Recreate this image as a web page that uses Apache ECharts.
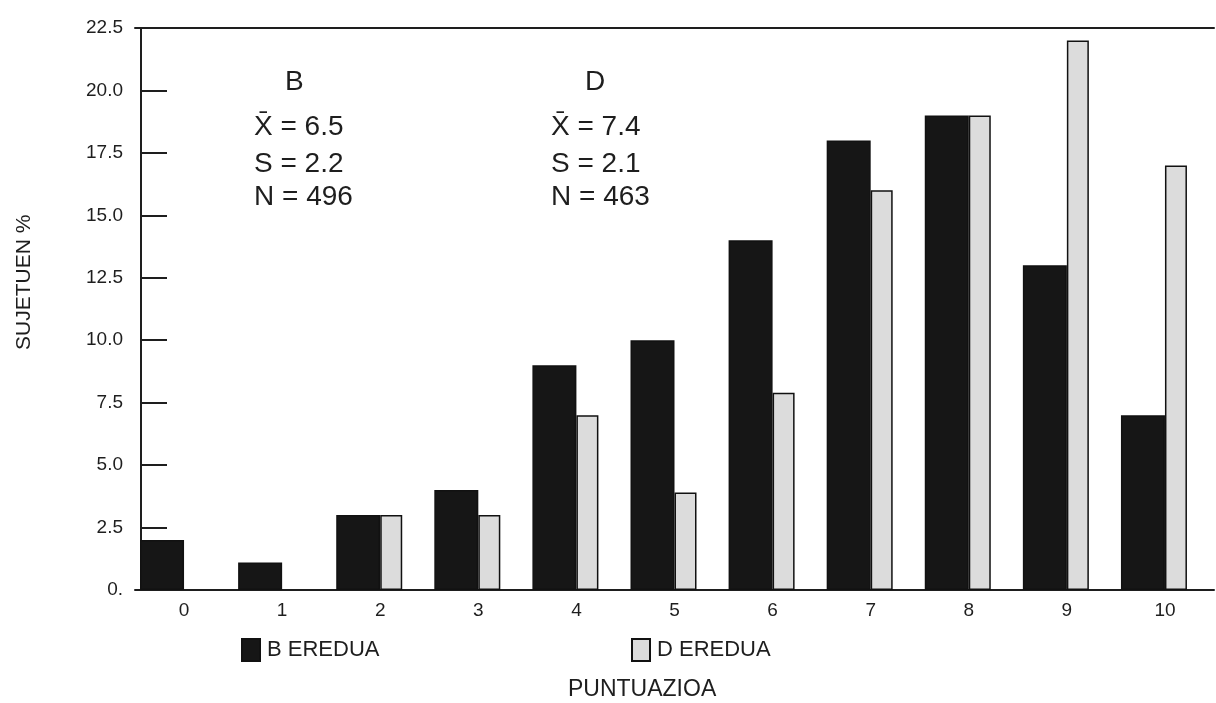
<!DOCTYPE html>
<html>
<head>
<meta charset="utf-8">
<script src="https://cdn.jsdelivr.net/npm/echarts@6/dist/echarts.min.js"></script>
<style>
html,body{margin:0;padding:0;background:#fff;}
#chart{width:1216px;height:703px;}
</style>
</head>
<body>
<div id="chart"></div>
<script>
const categories = ['0','1','2','3','4','5','6','7','8','9','10'];
const seriesBName = 'B EREDUA';
const seriesDName = 'D EREDUA';
const valuesB = [2.0, 1.1, 3.0, 4.0, 9.0, 10.0, 14.0, 18.0, 19.0, 13.0, 7.0];
const valuesD = [null, null, 3.0, 3.0, 7.0, 3.9, 7.9, 16.0, 19.0, 22.0, 17.0];
const yTickLabels = {0:'0.', 2.5:'2.5', 5:'5.0', 7.5:'7.5', 10:'10.0', 12.5:'12.5', 15:'15.0', 17.5:'17.5', 20:'20.0', 22.5:'22.5'};
const statsB = ['B', 'X\u0304 = 6.5', 'S = 2.2', 'N = 496'];
const statsD = ['D', 'X\u0304 = 7.4', 'S = 2.1', 'N = 463'];
const yAxisTitle = 'SUJETUEN %';
const xAxisTitle = 'PUNTUAZIOA';

const ink = '#1e1e1e';
const sans = '"Liberation Sans", Arial, sans-serif';

const chart = echarts.init(document.getElementById('chart'), null, {renderer:'canvas'});

function statBlock(lines, xLetter, xText) {
  const ys = [68, 113, 150, 183];
  return lines.map((t, i) => ({
    type: 'text',
    left: i === 0 ? xLetter : xText,
    top: ys[i],
    style: { text: t, font: '28px ' + sans, fill: ink }
  }));
}

const legendCommon = {
  top: 633, itemWidth: 18, itemHeight: 22, itemGap: 0, icon: 'rect',
  textStyle: { fontFamily: sans, fontSize: 22, color: ink, padding: [1, 0, 0, 2] }
};

const option = {
  backgroundColor: '#fff',
  animation: false,
  grid: { left: 135, right: 2, top: 28, bottom: 113, containLabel: false },
  legend: [
    Object.assign({ data: [seriesBName], left: 236 }, legendCommon),
    Object.assign({ data: [seriesDName], left: 626 }, legendCommon)
  ],
  xAxis: [
    {
      type: 'category', data: categories, position: 'bottom',
      axisLine: { lineStyle: { color: ink, width: 2 } },
      axisTick: { show: false },
      axisLabel: { color: ink, fontFamily: sans, fontSize: 19, margin: 11 }
    },
    {
      type: 'category', data: categories, position: 'top',
      axisLine: { show: true, lineStyle: { color: ink, width: 2 } },
      axisTick: { show: false }, axisLabel: { show: false }
    }
  ],
  yAxis: {
    type: 'value', min: 0, max: 22.5, interval: 2.5, offset: -6,
    axisLine: { show: true, lineStyle: { color: ink, width: 2 } },
    axisTick: { show: true, inside: true, length: 26, lineStyle: { color: ink, width: 2 } },
    splitLine: { show: false },
    axisLabel: { color: ink, fontFamily: sans, fontSize: 19, margin: 18,
      formatter: v => yTickLabels[v] !== undefined ? yTickLabels[v] : String(v) }
  },
  series: [
    { name: seriesBName, type: 'bar', data: valuesB, barWidth: 44, barGap: '0%',
      itemStyle: { color: '#161616', borderColor: '#111', borderWidth: 1.5 } },
    { name: seriesDName, type: 'bar', data: valuesD, barWidth: 22, barGap: '0%',
      itemStyle: { color: '#dcdcdc', borderColor: '#111', borderWidth: 1.5 } },
    { name: 'spacer', type: 'bar', data: [], barWidth: 22, barGap: '0%', silent: true }
  ],
  graphic: [
    ...statBlock(statsB, 285, 254),
    ...statBlock(statsD, 585, 551),
    { type: 'text', x: 14, y: 350, rotation: Math.PI / 2,
      style: { text: yAxisTitle, font: '21px ' + sans, fill: ink, textAlign: 'left', textVerticalAlign: 'top' } },
    { type: 'text', left: 568, top: 678, style: { text: xAxisTitle, font: '23px ' + sans, fill: ink } }
  ]
};
chart.setOption(option);
</script>
</body>
</html>
